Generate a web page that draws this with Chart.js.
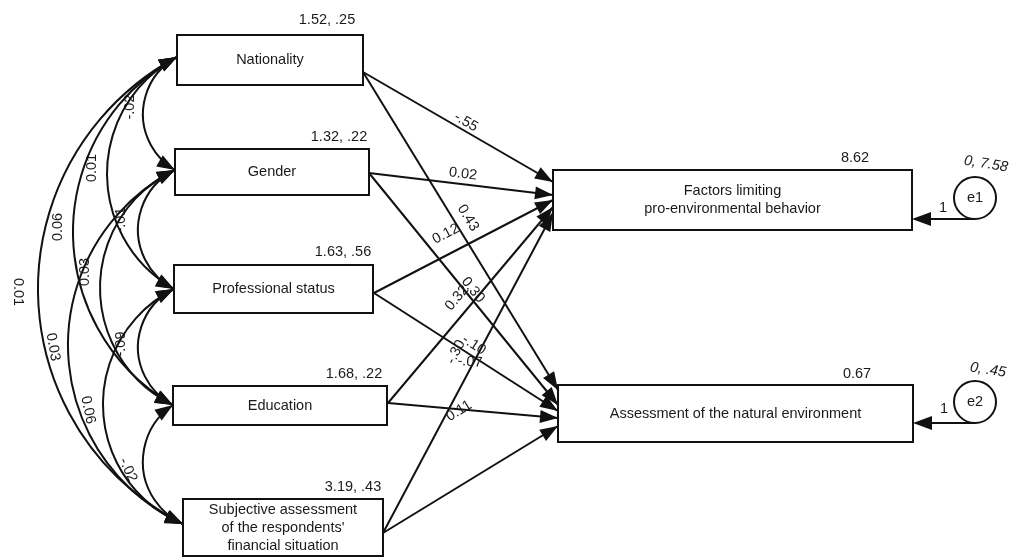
<!DOCTYPE html>
<html>
<head>
<meta charset="utf-8">
<script src="https://cdn.jsdelivr.net/npm/chart.js@4.4.1/dist/chart.umd.min.js"></script>
<style>
  html, body { margin: 0; padding: 0; background: #fff; }
  #wrap { width: 1015px; height: 559px; }
</style>
</head>
<body>
<div id="wrap"><canvas id="pathChart"></canvas></div>
<script>
// ========== DATA ==========
const variables = [
  "Nationality",
  "Gender",
  "Professional status",
  "Education",
  "Subjective assessment\nof the respondents'\nfinancial situation",
  "Factors limiting\npro-environmental behavior",
  "Assessment of the natural environment",
];
const varStats = ["1.52, .25", "1.32, .22", "1.63, .56", "1.68, .22", "3.19, .43", "8.62", "0.67"];

const errorTerms = ["e1", "e2"];
const errorStats = ["0, 7.58", "0, .45"];
const errorTarget = [5, 6];
const errorWeight = ["1", "1"];

// regression paths (from -> to)
const pathFrom = [0, 0, 1, 1, 2, 2, 3, 3, 4, 4];
const pathTo = [5, 6, 5, 6, 5, 6, 5, 6, 5, 6];
const pathCoef = ["-.55", "0.43", "0.02", "0.30", "0.12", "-.10", "0.32", "-.07", "-.30", "0.11"];

// covariances between exogenous variables
const covA = [0, 0, 0, 0, 1, 1, 1, 2, 2, 3];
const covB = [1, 2, 3, 4, 2, 3, 4, 3, 4, 4];
const covCoef = ["-.02", "0.01", "0.06", "0.01", "-.01", "0.03", "0.03", "-.09", "0.06", "-.02"];

// ========== LAYOUT (diagram units) ==========
const boxes = [
  [177, 35, 363, 85],
  [175, 149, 369, 195],
  [174, 265, 373, 313],
  [173, 386, 387, 425],
  [183, 499, 383, 556],
  [553, 170, 912, 230],
  [558, 385, 913, 442],
];
const statPos = [[327, 20], [339, 137], [343, 252], [354, 374], [353, 487], [855, 158], [857, 374]];
const pathStart = [[363, 72], [363, 72], [369, 173], [369, 173], [374, 293], [374, 293], [388, 403], [388, 403], [383, 533], [383, 533]];
const pathEnd = [[553, 182], [558, 390], [553, 195], [558, 405], [553, 200], [558, 411], [553, 207], [558, 418], [553, 213], [558, 426]];
const pathLabel = [[466, 122], [468, 218], [463, 174], [473, 290], [446, 234], [474, 345], [457, 298], [470, 362], [456, 352], [459, 411]];

const arcAttach = [[177, 57], [175, 170], [174, 289], [173, 405], [183, 524]];
const arcApex = [143, 107, 73, 38, 138, 100, 68, 138, 103, 143];
const arcLabel = [[130, 107, -90], [92, 168, -90], [58, 227, -90], [18, 292, 90], [121, 220, -90],
  [85, 272, -90], [53, 347, 80], [121, 344, -90], [88, 410, 78], [128, 470, 65]];

const errCenter = [[975, 198], [975, 402]];
const errRadius = 21;
const errStatPos = [[986, 164], [988, 370]];
const errWeightPos = [[943, 208], [944, 409]];

const FONT = "14.5px 'Liberation Sans', Arial, sans-serif";
const INK = "#111";
const TEXT = "#1a1a1a";

// ========== DRAWING ==========
function head(ctx, tx, ty, dx, dy, len = 18, half = 6.5) {
  const n = Math.hypot(dx, dy);
  dx /= n; dy /= n;
  const bx = tx - dx * len, by = ty - dy * len;
  ctx.beginPath();
  ctx.moveTo(tx, ty);
  ctx.lineTo(bx - dy * half, by + dx * half);
  ctx.lineTo(bx + dy * half, by - dx * half);
  ctx.closePath();
  ctx.fill();
}

function label(ctx, text, x, y, deg, font) {
  ctx.save();
  ctx.translate(x, y);
  ctx.rotate(deg * Math.PI / 180);
  ctx.font = font || FONT;
  ctx.textAlign = "center";
  ctx.textBaseline = "middle";
  ctx.fillText(text, 0, 0);
  ctx.restore();
}

const diagramPlugin = {
  id: "diagram",
  afterDatasetsDraw(chart) {
    const { ctx, scales } = chart;
    const px = (x, y) => [scales.x.getPixelForValue(x), scales.y.getPixelForValue(y)];
    ctx.save();
    ctx.strokeStyle = INK;
    ctx.fillStyle = INK;
    ctx.lineWidth = 2;

    // arrowheads on regression paths + their labels
    pathFrom.forEach((f, i) => {
      const [x1, y1] = px(...pathStart[i]);
      const [x2, y2] = px(...pathEnd[i]);
      head(ctx, x2, y2, x2 - x1, y2 - y1);
      const deg = Math.atan2(y2 - y1, x2 - x1) * 180 / Math.PI;
      const [lx, ly] = px(...pathLabel[i]);
      ctx.fillStyle = TEXT;
      label(ctx, pathCoef[i], lx, ly, deg > 90 ? deg - 180 : deg);
      ctx.fillStyle = INK;
    });

    // covariance arcs (circular, bulging to the left)
    covA.forEach((a, i) => {
      const [x1, y1] = px(...arcAttach[a]);
      const [x2, y2] = px(...arcAttach[covB[i]]);
      const apx = scales.x.getPixelForValue(arcApex[i]);
      const mx = (x1 + x2) / 2, my = (y1 + y2) / 2;
      const c = Math.hypot(x2 - x1, y2 - y1);
      const s = mx - apx;
      const R = (c * c / 4 + s * s) / (2 * s);
      const ux = (x2 - x1) / c, uy = (y2 - y1) / c;
      const nx = uy, ny = -ux;
      const cx = mx + nx * (R - s), cy = my + ny * (R - s);
      const a1 = Math.atan2(y1 - cy, x1 - cx);
      const a2 = Math.atan2(y2 - cy, x2 - cx);
      ctx.beginPath();
      ctx.arc(cx, cy, R, a1, a2, true);
      ctx.stroke();
      head(ctx, x1, y1, -Math.sin(a1), Math.cos(a1));
      head(ctx, x2, y2, Math.sin(a2), -Math.cos(a2));
      const [lx, ly] = px(arcLabel[i][0], arcLabel[i][1]);
      ctx.fillStyle = TEXT;
      label(ctx, covCoef[i], lx, ly, arcLabel[i][2]);
      ctx.fillStyle = INK;
    });

    // boxes with names and stats
    variables.forEach((name, i) => {
      const [x1, y1] = px(boxes[i][0], boxes[i][1]);
      const [x2, y2] = px(boxes[i][2], boxes[i][3]);
      ctx.fillStyle = "#fff";
      ctx.fillRect(x1, y1, x2 - x1, y2 - y1);
      ctx.strokeRect(x1, y1, x2 - x1, y2 - y1);
      ctx.fillStyle = TEXT;
      const lines = name.split("\n");
      const cx = (x1 + x2) / 2, cy = (y1 + y2) / 2;
      lines.forEach((t, k) => label(ctx, t, cx, cy + (k - (lines.length - 1) / 2) * 18, 0));
      const [sx, sy] = px(...statPos[i]);
      label(ctx, varStats[i], sx, sy, 0);
      ctx.fillStyle = INK;
    });

    // error terms
    errorTerms.forEach((e, i) => {
      const [cx, cy] = px(...errCenter[i]);
      ctx.beginPath();
      ctx.arc(cx, cy, errRadius, 0, Math.PI * 2);
      ctx.stroke();
      const tgt = boxes[errorTarget[i]];
      const [bx] = px(tgt[2], 0);
      const ly = cy + errRadius;
      ctx.beginPath();
      ctx.moveTo(cx, ly);
      ctx.lineTo(bx + 10, ly);
      ctx.stroke();
      head(ctx, bx, ly, -1, 0, 19, 7);
      ctx.fillStyle = TEXT;
      label(ctx, e, cx, cy, 0);
      const [sx, sy] = px(...errStatPos[i]);
      label(ctx, errorStats[i], sx, sy, 9, "italic 14.5px 'Liberation Sans', Arial, sans-serif");
      const [wx, wy] = px(...errWeightPos[i]);
      label(ctx, errorWeight[i], wx, wy, 0);
      ctx.fillStyle = INK;
    });
    ctx.restore();
  },
};

new Chart(document.getElementById("pathChart"), {
  type: "scatter",
  data: {
    datasets: pathFrom.map((f, i) => ({
      label: variables[f] + " -> " + variables[pathTo[i]],
      data: [
        { x: pathStart[i][0], y: pathStart[i][1] },
        { x: pathEnd[i][0], y: pathEnd[i][1] },
      ],
      showLine: true,
      borderColor: INK,
      borderWidth: 2,
      pointRadius: 0,
    })),
  },
  options: {
    responsive: true,
    maintainAspectRatio: false,
    animation: false,
    layout: { padding: 0 },
    plugins: { legend: { display: false }, tooltip: { enabled: false } },
    scales: {
      x: { type: "linear", min: 0, max: 1015, display: false },
      y: { type: "linear", min: 0, max: 559, reverse: true, display: false },
    },
  },
  plugins: [diagramPlugin],
});
</script>
</body>
</html>
